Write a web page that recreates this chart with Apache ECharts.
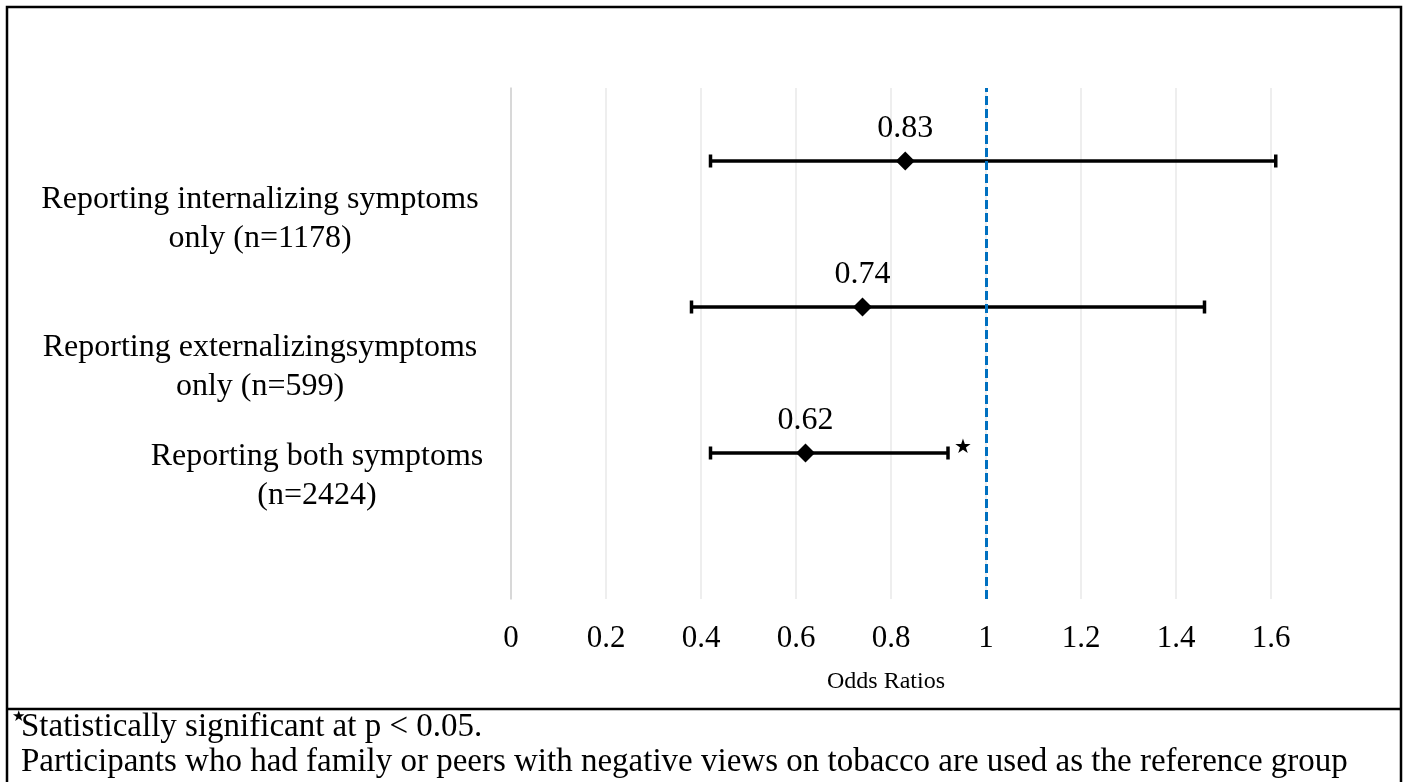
<!DOCTYPE html>
<html>
<head>
<meta charset="utf-8">
<script src="https://cdn.jsdelivr.net/npm/echarts@6/dist/echarts.min.js"></script>
<style>
html,body{margin:0;padding:0;background:#fff;}
#chart{width:1409px;height:782px;}
</style>
</head>
<body>
<div id="chart"></div>
<script>
// ---- data ----
const categories = [
  'Reporting internalizing symptoms\nonly (n=1178)',
  'Reporting externalizingsymptoms\nonly (n=599)',
  'Reporting both symptoms\n(n=2424)'
];
const oddsRatios = [0.83, 0.74, 0.62];
const ciLower = [0.42, 0.38, 0.42];
const ciUpper = [1.61, 1.46, 0.92];
const significant = [false, false, true];
const rowPositions = [3, 2, 1];
const labelRowPositions = [2.6, 1.585, 0.84];
const xMin = 0, xMax = 1.6, xStep = 0.2;
const referenceValue = 1;
const xAxisTitle = 'Odds Ratios';
const footnote1 = 'Statistically significant at p < 0.05.';
const footnote2 = 'Participants who had family or peers with negative views on tobacco are used as the reference group';

// ---- styles ----
const FONT = '"Liberation Serif", "Times New Roman", serif';
const labelOffsets = [-251, -251, -194];

const chart = echarts.init(document.getElementById('chart'), null, {renderer: 'canvas'});

const pointData = oddsRatios.map((v, i) => [v, rowPositions[i]]);
const ciData = oddsRatios.map((v, i) => [ciLower[i], ciUpper[i], rowPositions[i], significant[i] ? 1 : 0]);
const catData = categories.map((c, i) => ({
  value: [0, labelRowPositions[i]],
  label: {
    show: true, formatter: c, position: 'inside', offset: [labelOffsets[i], 0],
    align: 'center', verticalAlign: 'middle',
    fontFamily: FONT, fontSize: 32, lineHeight: 39, color: '#000'
  }
}));

chart.setOption({
  animation: false,
  backgroundColor: '#fff',
  grid: {left: 511, right: 138, top: 88, bottom: 183},
  xAxis: {
    type: 'value', min: xMin, max: xMax, interval: xStep,
    name: xAxisTitle, nameLocation: 'middle', nameGap: 71,
    nameTextStyle: {fontFamily: FONT, fontSize: 24, color: '#000', padding: [0, 10, 0, 0]},
    axisLine: {show: false}, axisTick: {show: false},
    axisLabel: {fontFamily: FONT, fontSize: 31, color: '#000', margin: 24},
    splitLine: {show: true, lineStyle: {color: '#e8e8e8', width: 1.5}}
  },
  yAxis: {
    type: 'value', min: 0, max: 3.5,
    axisLine: {show: true, lineStyle: {color: '#d0d0d0', width: 1.5}},
    axisTick: {show: false}, axisLabel: {show: false}, splitLine: {show: false}
  },
  series: [
    {
      type: 'custom',
      data: ciData,
      z: 3,
      renderItem: function (params, api) {
        const lo = api.coord([api.value(0), api.value(2)]);
        const hi = api.coord([api.value(1), api.value(2)]);
        const st = {stroke: '#000', lineWidth: 3.5};
        const children = [
          {type: 'line', shape: {x1: lo[0], y1: lo[1], x2: hi[0], y2: hi[1]}, style: st},
          {type: 'line', shape: {x1: lo[0], y1: lo[1] - 6.5, x2: lo[0], y2: lo[1] + 6.5}, style: st},
          {type: 'line', shape: {x1: hi[0], y1: hi[1] - 6.5, x2: hi[0], y2: hi[1] + 6.5}, style: st}
        ];
        if (api.value(3) === 1) {
          children.push({type: 'text', x: hi[0] + 15, y: hi[1] - 5,
            style: {text: '★', fill: '#000', font: '20px "DejaVu Sans"', align: 'center', verticalAlign: 'middle'}});
        }
        return {type: 'group', children: children};
      }
    },
    {
      type: 'scatter',
      data: pointData,
      z: 4,
      symbol: 'diamond', symbolSize: [19, 19],
      itemStyle: {color: '#000', opacity: 1},
      label: {
        show: true, position: 'top', distance: 7,
        formatter: p => p.value[0].toFixed(2),
        fontFamily: FONT, fontSize: 32, color: '#000'
      },
      markLine: {
        silent: true, symbol: 'none',
        label: {show: false},
        lineStyle: {color: '#0070C0', width: 3, type: [9, 4]},
        data: [{xAxis: referenceValue}]
      }
    },
    {
      type: 'scatter',
      data: catData,
      symbolSize: 1,
      itemStyle: {color: 'rgba(0,0,0,0)', opacity: 1},
      z: 5
    }
  ],
  graphic: [
    {type: 'rect', shape: {x: 7, y: 7, width: 1394, height: 800}, style: {fill: 'none', stroke: '#000', lineWidth: 2.5}, z: 10},
    {type: 'line', shape: {x1: 7, y1: 709, x2: 1401, y2: 709}, style: {stroke: '#000', lineWidth: 2.5}, z: 10},
    {type: 'text', left: 12, top: 710, style: {text: '★', fill: '#000', font: '15px "DejaVu Sans"'}, z: 10},
    {type: 'text', left: 21, top: 711, style: {text: footnote1, fill: '#000', font: '33px "Liberation Serif"'}, z: 10},
    {type: 'text', left: 21, top: 746, style: {text: footnote2, fill: '#000', font: '33px "Liberation Serif"'}, z: 10}
  ]
});
</script>
</body>
</html>
